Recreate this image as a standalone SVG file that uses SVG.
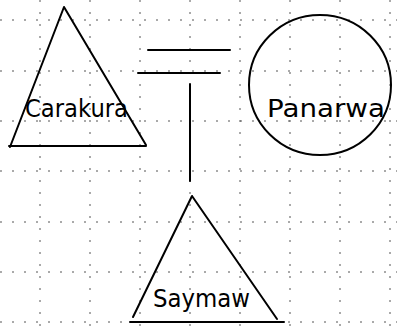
<svg xmlns="http://www.w3.org/2000/svg" width="397" height="328" viewBox="0 0 397 328">
<style>
.grid line{stroke:#555;stroke-width:1;stroke-dasharray:2 10;}
.shape{fill:none;stroke:#000;stroke-width:2;stroke-linejoin:round;stroke-linecap:round;}
.lbl{font-family:"DejaVu Sans",sans-serif;font-size:24px;fill:#000;}
</style>
<rect width="397" height="328" fill="#fff"/>
<g id="grid" class="grid">
<line x1="40" y1="0" x2="40" y2="328"/>
<line x1="90" y1="0" x2="90" y2="328"/>
<line x1="140" y1="0" x2="140" y2="328"/>
<line x1="190" y1="0" x2="190" y2="328"/>
<line x1="240" y1="0" x2="240" y2="328"/>
<line x1="290" y1="0" x2="290" y2="328"/>
<line x1="340" y1="0" x2="340" y2="328"/>
<line x1="390" y1="0" x2="390" y2="328"/>
<line x1="0" y1="20" x2="397" y2="20"/>
<line x1="0" y1="71" x2="397" y2="71"/>
<line x1="0" y1="121" x2="397" y2="121"/>
<line x1="0" y1="171" x2="397" y2="171"/>
<line x1="0" y1="222" x2="397" y2="222"/>
<line x1="0" y1="272" x2="397" y2="272"/>
<line x1="0" y1="322" x2="397" y2="322"/>
</g>
<g id="connectors" class="shape">
<line x1="148" y1="50" x2="230" y2="50"/>
<line x1="138" y1="73" x2="220" y2="73"/>
<line x1="190" y1="84" x2="190" y2="181"/>
</g>
<g id="carakura">
<path class="shape" d="M64 7 L146 145 M64 7 L10 147 M9 146 L146 146"/>
<text class="lbl" x="25" y="117" textLength="103" lengthAdjust="spacingAndGlyphs">Carakura</text>
</g>
<g id="panarwa">
<ellipse class="shape" cx="320" cy="85" rx="71" ry="70"/>
<text class="lbl" x="267" y="117" textLength="118" lengthAdjust="spacingAndGlyphs">Panarwa</text>
</g>
<g id="saymaw">
<path class="shape" d="M192 196 L133 317 M192 196 L277 319 M130 322 L284 322"/>
<text class="lbl" x="153" y="307" textLength="97" lengthAdjust="spacingAndGlyphs">Saymaw</text>
</g>
</svg>
